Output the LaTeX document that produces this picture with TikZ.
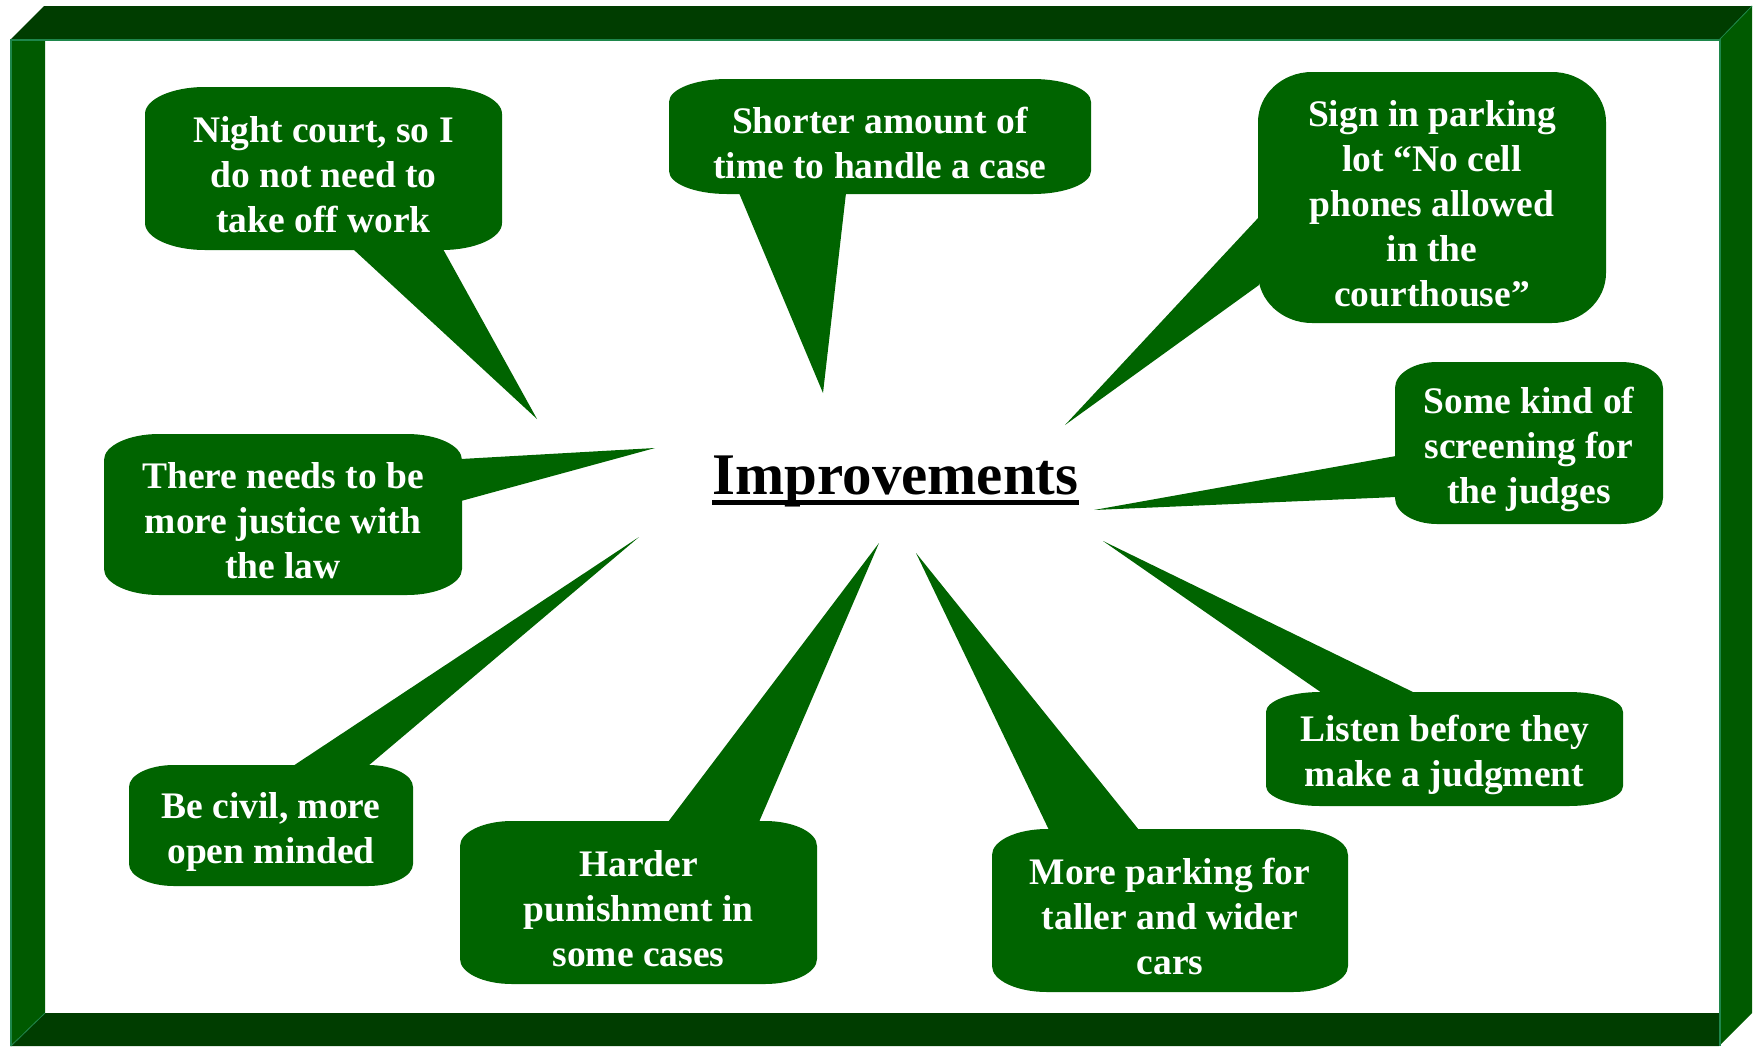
\documentclass[tikz,border=0pt]{standalone}
\usepackage{fontspec}
\setmainfont{Liberation Serif}
\definecolor{cgreen}{RGB}{0,100,0}
\definecolor{fdark}{RGB}{0,61,0}
\definecolor{fside}{RGB}{0,90,0}
\definecolor{fline}{RGB}{30,135,75}
\tikzset{
  cfill/.style={fill=cgreen},
  ctext/.style={text=white, align=center, inner sep=0pt, font=\fontsize{37.5}{45}\selectfont\bfseries},
  titletext/.style={inner sep=0pt, anchor=base, font=\fontsize{59}{70}\selectfont\bfseries},
  seam/.style={draw=fline, line width=0.8pt}
}
% name, x1, y1, x2, y2, rx, ry, text
\newcommand\ctbox[8]{%
  \fill[cfill] (#2+#6,#3) -- (#4-#6,#3)
    .. controls (#4-0.4477*#6,#3) and (#4,#3+0.4477*#7) .. (#4,#3+#7)
    -- (#4,#5-#7)
    .. controls (#4,#5-0.4477*#7) and (#4-0.4477*#6,#5) .. (#4-#6,#5)
    -- (#2+#6,#5)
    .. controls (#2+0.4477*#6,#5) and (#2,#5-0.4477*#7) .. (#2,#5-#7)
    -- (#2,#3+#7)
    .. controls (#2,#3+0.4477*#7) and (#2+0.4477*#6,#3) .. (#2+#6,#3) -- cycle;
  \node[ctext] (#1) at ({(#2+#4)/2},{(#3+#5)/2+6}) {#8};%
}
\begin{document}
\begin{tikzpicture}[x=1pt, y=-1pt]
\useasboundingbox (0,0) rectangle (1761,1047);
% frame
\fill[fside] (10,40) -- (45,40) -- (45,1013) -- (10,1046) -- cycle;
\fill[fdark] (10,1046) -- (45,1013) -- (1719,1013) -- (1719,1046) -- cycle;
\fill[fdark] (10,40) -- (44,6) -- (1752,6) -- (1719,40) -- cycle;
\fill[fside] (1719,40) -- (1752,6) -- (1752,1013) -- (1719,1046) -- cycle;
\draw[seam] (45,1013) -- (11,1046);
\draw[seam] (1719,40) -- (1752,6);
\draw[fline, line width=2.5pt] (11,1046) -- (11,40) -- (1720,40) -- (1720,1046);

% tips
\coordinate (t1) at (537,419);
\coordinate (t2) at (823,393);
\coordinate (t3) at (1065,425);
\coordinate (t4) at (1094,510);
\coordinate (t5) at (1103,541);
\coordinate (t6) at (916,553);
\coordinate (t7) at (879,543);
\coordinate (t8) at (639,537);
\coordinate (t9) at (655,448);

% tails
\fill[cfill] (353,249) -- (443,249) -- (t1) -- cycle;
\fill[cfill] (739,193) -- (846,193) -- (t2) -- cycle;
\fill[cfill] (1259,217) -- (1259,285) -- (t3) -- cycle;
\fill[cfill] (1396,456) -- (1396,497) -- (t4) -- cycle;
\fill[cfill] (1322,693) -- (1415,693) -- (t5) -- cycle;
\fill[cfill] (1049,830) -- (1139,830) -- (t6) -- cycle;
\fill[cfill] (668,822) -- (759,822) -- (t7) -- cycle;
\fill[cfill] (293,766) -- (368,766) -- (t8) -- cycle;
\fill[cfill] (461,459) -- (461,501) -- (t9) -- cycle;

% boxes
\ctbox{b1}{145}{87}{502}{250}{60}{27}{Night court, so I\\do not need to\\take off work}
\ctbox{b2}{669}{79}{1091}{194}{58}{23}{Shorter amount of\\time to handle a case}
\ctbox{b3}{1258}{72}{1606}{323}{54}{50}{Sign in parking\\lot “No cell\\phones allowed\\in the\\courthouse”}
\ctbox{b4}{1395}{362}{1663}{524}{42}{26}{Some kind of\\screening for\\the judges}
\ctbox{b5}{1266}{692}{1623}{806}{54}{20}{Listen before they\\make a judgment}
\ctbox{b6}{992}{829}{1348}{992}{55}{26}{More parking for\\taller and wider\\cars}
\ctbox{b7}{460}{821}{817}{984}{52}{25}{Harder\\punishment in\\some cases}
\ctbox{b8}{129}{765}{413}{886}{45}{22}{Be civil, more\\open minded}
\ctbox{b9}{104}{434}{462}{595}{55}{26}{There needs to be\\more justice with\\the law}

% title
\node[titletext] (title) at (895.5,494) {Improvements};
\fill ([yshift=-6pt]title.base west) rectangle ([yshift=-11pt]title.base east);
\end{tikzpicture}
\end{document}
